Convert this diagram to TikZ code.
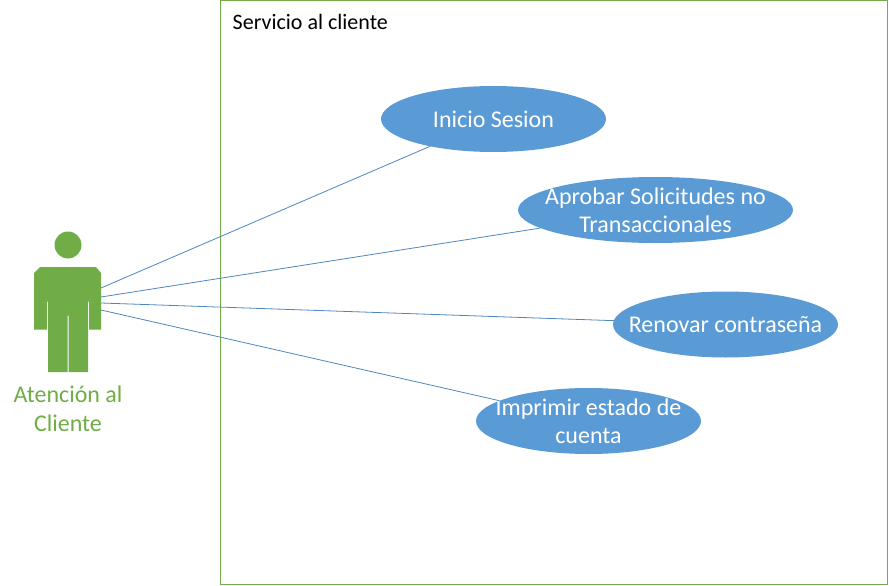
\documentclass[tikz,border=0pt]{standalone}
\usepackage{fontspec}
\setmainfont{Carlito}
\usetikzlibrary{shapes.geometric}
\definecolor{actorgreen}{HTML}{70AD47}
\definecolor{caseblue}{HTML}{5B9BD5}
\definecolor{linkblue}{HTML}{4F86BC}
\tikzset{
  usecase/.style={ellipse,fill=caseblue,inner sep=0pt,outer sep=0pt,minimum width=225pt,minimum height=66pt},
  casetext/.style={text=white,align=center,inner sep=0pt,font=\fontsize{24}{28}\selectfont},
  link/.style={draw=linkblue,line width=0.8pt},
}
\begin{document}
\begin{tikzpicture}[x=1pt,y=-1pt]
      \useasboundingbox (0,0) rectangle (889,586);
      \draw[actorgreen,line width=1pt] (220.5,1) rectangle (887.5,584.5);
      \node[anchor=west,inner sep=0pt,font=\fontsize{22}{24}\selectfont] (boxtitle) at (232.5,22) {Servicio al cliente};
      \node[circle,fill=actorgreen,inner sep=0pt,minimum size=27pt] (head) at (68,245) {};
      \fill[actorgreen] (40,267) -- (96,267) -- (101,273) -- (101,329.5) -- (89,329.5) -- (89,301.5)
        -- (88,301.5) -- (88,372) -- (68.5,372) -- (68.5,315.5) -- (67.5,315.5) -- (67.5,372) -- (48,372)
        -- (48,301.5) -- (47,301.5) -- (47,329.5) -- (34,329.5) -- (34,273) -- cycle;
      \node[text=actorgreen,align=center,inner sep=0pt,font=\fontsize{24}{29}\selectfont] (actorname) at (68,409) {Atención al\\Cliente};
      \coordinate (hand1) at (101,288);
      \coordinate (hand2) at (101,297);
      \coordinate (hand3) at (101,303);
      \coordinate (hand4) at (101,310);
      \node[usecase,label={[casetext,name=inicioname]center:Inicio Sesion}] (inicio) at (493.5,119) {};
      \node[usecase,minimum width=275pt,label={[casetext,name=aprobarname]center:Aprobar Solicitudes no\\Transaccionales}] (aprobar) at (655.5,210) {};
      \node[usecase,label={[casetext,name=renovarname]center:Renovar contraseña}] (renovar) at (725.5,324.5) {};
      \node[usecase,label={[casetext,name=imprimirname]center:Imprimir estado de\\cuenta}] (imprimir) at (588.5,421) {};
      \draw[link] (hand1) -- (inicio);
      \draw[link] (hand2) -- (aprobar);
      \draw[link] (hand3) -- (renovar);
      \draw[link] (hand4) -- (imprimir);
    \end{tikzpicture}
\end{document}
